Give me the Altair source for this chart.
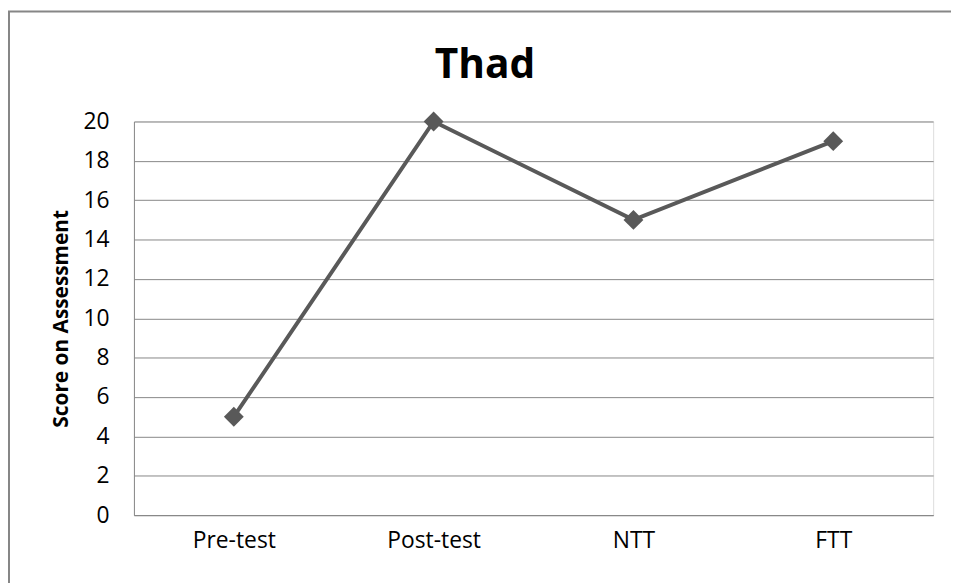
import altair as alt
import pandas as pd

categories = ["Pre-test", "Post-test", "NTT", "FTT"]
scores = [5, 20, 15, 19]
y_ticks = list(range(0, 21, 2))
title_text = "Thad"

df = pd.DataFrame({"Test": categories, "Score": scores})

W, H = 806, 397
FONT = "Open Sans"
LINE = "#595959"
GRID = "#878787"

x_enc = alt.X("Test:N", sort=categories, title=None,
              scale=alt.Scale(type="point", padding=0.5),
              axis=alt.Axis(labelAngle=0, ticks=False, tickSize=0, labelPadding=15,
                            labelFont=FONT, labelFontSize=23, labelColor="#000000",
                            domainColor=GRID, domainWidth=1, grid=False))
y_enc = alt.Y("Score:Q", scale=alt.Scale(domain=[0, 20]),
              axis=alt.Axis(values=y_ticks, ticks=False, tickSize=0, labelPadding=25,
                            labelFont=FONT, labelFontSize=23, labelColor="#000000",
                            domainColor=GRID, domainWidth=1,
                            gridColor=GRID, gridWidth=1,
                            title="Score on Assessment", titleFont=FONT,
                            titleFontSize=21, titleFontWeight="bold", titleColor="#000000",
                            titleAngle=-90, titleX=-67, titleY=H / 2,
                            titleAlign="center", titleBaseline="alphabetic"))

border = alt.Chart(pd.DataFrame({"b": [0]})).mark_rect(
    fill=None, stroke="#868686", strokeWidth=2, clip=False
).encode(x=alt.value(-126), x2=alt.value(W + 60), y=alt.value(-111), y2=alt.value(H + 90))

title = alt.Chart(pd.DataFrame({"t": [title_text]})).mark_text(
    font=FONT, fontSize=41, fontWeight="bold", color="#000000",
    align="center", baseline="alphabetic", clip=False
).encode(text="t:N", x=alt.value(354), y=alt.value(-44))

line = alt.Chart(df).mark_line(color=LINE, strokeWidth=4).encode(x=x_enc, y=y_enc)
pts = alt.Chart(df).mark_point(shape="diamond", filled=True, color=LINE, size=400, opacity=1).encode(
    x=x_enc, y=y_enc)

chart = alt.layer(border, title, line, pts).properties(
    width=W, height=H,
    autosize=alt.AutoSizeParams(type="none"),
    padding={"left": 127, "top": 112, "right": 18, "bottom": 66},
).configure_view(stroke=None).configure(background="white")

chart.save("out.html", embed_options={"renderer": "svg", "actions": False})
